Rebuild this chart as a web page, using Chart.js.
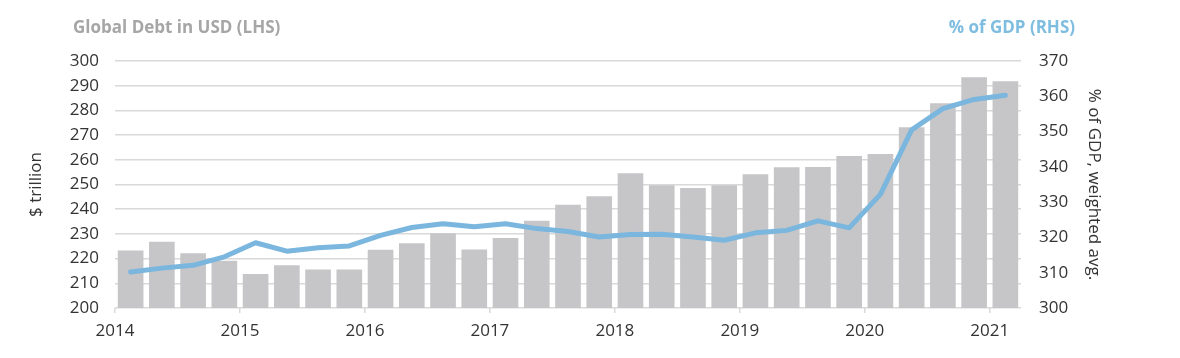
<!DOCTYPE html>
<html>
<head>
<meta charset="utf-8">
<script src="https://cdn.jsdelivr.net/npm/chart.js"></script>
<style>
  html, body { margin: 0; padding: 0; background: #ffffff; }
  #wrap { position: relative; width: 1180px; height: 358px; }
</style>
</head>
<body>
<div id="wrap"><canvas id="debtChart" width="1180" height="358"></canvas></div>

<script>
// quarterly data, 2014 Q1 .. 2021 Q1
const quarters = [
  '2014 Q1','2014 Q2','2014 Q3','2014 Q4',
  '2015 Q1','2015 Q2','2015 Q3','2015 Q4',
  '2016 Q1','2016 Q2','2016 Q3','2016 Q4',
  '2017 Q1','2017 Q2','2017 Q3','2017 Q4',
  '2018 Q1','2018 Q2','2018 Q3','2018 Q4',
  '2019 Q1','2019 Q2','2019 Q3','2019 Q4',
  '2020 Q1','2020 Q2','2020 Q3','2020 Q4',
  '2021 Q1'
];
const debtUSD = [
  223.1, 226.7, 222.0, 219.0,
  213.6, 217.2, 215.5, 215.5,
  223.4, 226.1, 230.1, 223.6,
  228.2, 235.2, 241.7, 245.1,
  254.4, 249.6, 248.5, 249.6,
  254.0, 256.8, 257.0, 261.4,
  262.2, 273.0, 282.8, 293.3,
  291.7
];
const debtPctGDP = [
  310.2, 311.3, 312.1, 314.5,
  318.5, 316.1, 317.1, 317.6,
  320.6, 322.8, 323.9, 323.0,
  323.9, 322.5, 321.7, 320.1,
  320.8, 320.9, 320.1, 319.2,
  321.3, 322.0, 324.7, 322.7,
  332.2, 350.5, 356.5, 359.1,
  360.3
];
const firstYear = 2014;
const leftTicks = [200, 300, 10];   // min, max, step
const rightTicks = [300, 370, 10];

const fontFamily = "'Open Sans', 'DejaVu Sans', sans-serif";
const textColor = '#333333';
const gridColor = '#d9d9d9';

// bars/points sit in the middle of each quarter
const barPoints = debtUSD.map((v, i) => ({ x: i + 0.5, y: v }));
const linePoints = debtPctGDP.map((v, i) => ({ x: i + 0.5, y: v }));

const headerPlugin = {
  id: 'headers',
  afterDraw(chart) {
    const ctx = chart.ctx;
    ctx.save();
    ctx.font = "bold 17px " + fontFamily;
    ctx.textBaseline = 'middle';
    ctx.fillStyle = '#a6a6a6';
    ctx.textAlign = 'left';
    ctx.fillText('Global Debt in USD (LHS)', 73, 28);
    ctx.fillStyle = '#7fbde0';
    ctx.textAlign = 'right';
    ctx.fillText('% of GDP (RHS)', 1075, 28);
    ctx.restore();
  }
};

new Chart(document.getElementById('debtChart'), {
  type: 'bar',
  data: {
    datasets: [
      {
        type: 'line',
        label: '% of GDP (RHS)',
        data: linePoints,
        yAxisID: 'y2',
        borderColor: '#7ab6de',
        borderWidth: 5,
        pointRadius: 0,
        tension: 0,
        borderJoinStyle: 'round',
        borderCapStyle: 'round',
        order: 0
      },
      {
        label: 'Global Debt in USD (LHS)',
        data: barPoints,
        yAxisID: 'y',
        backgroundColor: '#c6c6c8',
        barThickness: 25,
        order: 1
      }
    ]
  },
  plugins: [headerPlugin],
  options: {
    responsive: false,
    animation: false,
    layout: { padding: { left: 0, right: 70, top: 61, bottom: 20 } },
    plugins: {
      legend: { display: false },
      tooltip: { enabled: false }
    },
    scales: {
      x: {
        type: 'linear',
        min: 0,
        max: quarters.length,
        offset: false,
        border: { display: false },
        grid: {
          offset: false,
          drawOnChartArea: false,
          drawTicks: true,
          tickLength: 5,
          lineWidth: 1.5,
          color: ctx => (ctx.tick && ctx.tick.value % 4 === 0) ? gridColor : 'rgba(0,0,0,0)'
        },
        ticks: {
          stepSize: 4,
          padding: 8,
          maxRotation: 0,
          autoSkip: false,
          color: textColor,
          font: { family: fontFamily, size: 17 },
          callback: v => (v % 4 === 0) ? String(firstYear + v / 4) : ''
        },
        afterFit: s => { s.height = 30; }
      },
      y: {
        position: 'left',
        min: leftTicks[0],
        max: leftTicks[1],
        border: { display: false },
        grid: { color: gridColor, lineWidth: 1.5, drawTicks: false },
        ticks: {
          stepSize: leftTicks[2],
          padding: 16,
          color: textColor,
          font: { family: fontFamily, size: 17 }
        },
        title: {
          display: true,
          text: '$ trillion',
          color: textColor,
          font: { family: fontFamily, size: 17 },
          padding: { top: 26, bottom: 0 }
        },
        afterFit: s => { s.width = 115; }
      },
      y2: {
        position: 'right',
        min: rightTicks[0],
        max: rightTicks[1],
        border: { display: false },
        grid: { drawOnChartArea: false, drawTicks: false },
        ticks: {
          stepSize: rightTicks[2],
          padding: 18,
          color: textColor,
          font: { family: fontFamily, size: 17 }
        },
        title: {
          display: true,
          text: '% of GDP, weighted avg.',
          color: textColor,
          font: { family: fontFamily, size: 17 },
          padding: { top: 6, bottom: 0 }
        },
        afterFit: s => { s.width = 89; }
      }
    }
  }
});
</script>
</body>
</html>
